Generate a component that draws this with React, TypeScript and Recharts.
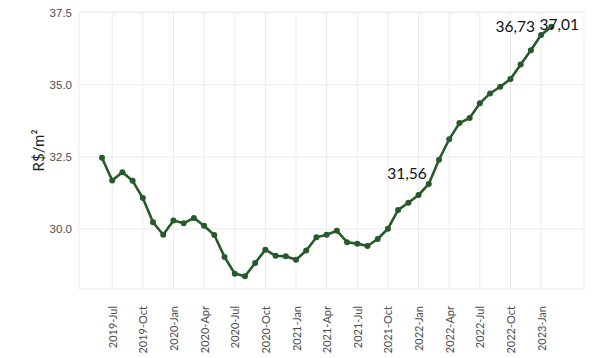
import { LineChart, Line, XAxis, YAxis, CartesianGrid, LabelList, Label } from 'recharts';

// monthly series, 2019-06 .. 2023-02
const START_YEAR = 2019;
const START_MONTH = 5; // June (0-based)

const prices = [
  32.47, 31.68, 31.97, 31.67, 31.07, 30.23, 29.8,
  30.29, 30.2, 30.38, 30.11, 29.79, 29.03, 28.45, 28.36, 28.82, 29.28, 29.07, 29.05,
  28.93, 29.25, 29.71, 29.8, 29.94, 29.54, 29.49, 29.41, 29.65, 30.01, 30.66, 30.91,
  31.18, 31.56, 32.4, 33.11, 33.67, 33.85, 34.36, 34.7, 34.93, 35.2, 35.7, 36.2,
  36.73, 37.01,
];

const monthNames = ['Jan', 'Feb', 'Mar', 'Apr', 'May', 'Jun', 'Jul', 'Aug', 'Sep', 'Oct', 'Nov', 'Dec'];

const labelledIdx = [32, 43, 44];
const xTicks = [1, 4, 7, 10, 13, 16, 19, 22, 25, 28, 31, 34, 37, 40, 43];
const yTicks = [30, 32.5, 35, 37.5];

const GREEN = '#27592a';

const data = prices.map((v, i) => ({
  i,
  v,
  tag: labelledIdx.includes(i) ? v.toFixed(2).replace('.', ',') : '',
}));

const monthLabel = (i: number) => {
  const m = START_MONTH + i;
  return `${START_YEAR + Math.floor(m / 12)}-${monthNames[m % 12]}`;
};

const XTick = ({ x, y, payload }: any) => (
  <text
    x={x}
    y={y + 9}
    transform={`rotate(-90 ${x} ${y + 9})`}
    textAnchor="end"
    dominantBaseline="central"
    fontSize={11}
    fontFamily="Lato, sans-serif"
    fill="#4d4d4d"
  >
    {monthLabel(payload.value)}
  </text>
);

// recharts hands us x already pulled in by tickSize + tickMargin
const YTick = ({ x, y, payload }: any) => (
  <text x={x + 1} y={y} textAnchor="end" dominantBaseline="central" fontSize={11.5} fontFamily="Liberation Sans, Arial, sans-serif" fill="#4d4d4d">
    {payload.value.toFixed(1)}
  </text>
);

// where each callout sits relative to its point
const tagPlacement: Record<string, { dx: number; dy: number; anchor: string }> = {
  '31,56': { dx: -2, dy: -5, anchor: 'end' },
  '36,73': { dx: -6, dy: -3, anchor: 'end' },
  '37,01': { dx: 8, dy: 3, anchor: 'middle' },
};

const Tag = ({ x, y, value }: any) => {
  if (!value) return null;
  const p = tagPlacement[value] || { dx: 0, dy: -10, anchor: 'middle' };
  return (
    <text x={x + p.dx} y={y + p.dy} textAnchor={p.anchor} fontSize={15.5} fontFamily="Lato, sans-serif" fill="#111">
      {value}
    </text>
  );
};

export default function App() {
  return (
    <div style={{ position: 'absolute', left: 0, top: 0, width: 600, height: 358, background: '#fff' }}>
      <LineChart width={600} height={358} data={data} margin={{ top: 12, right: 16, bottom: 9, left: 0 }}>
        <CartesianGrid stroke="#ebebeb" strokeWidth={1} />
        <XAxis
          dataKey="i"
          type="number"
          domain={[-2.25, 47.2]}
          ticks={xTicks}
          tick={<XTick />}
          tickLine={false}
          axisLine={false}
          height={60}
          interval={0}
        />
        <YAxis
          type="number"
          domain={[27.917, 37.524]}
          ticks={yTicks}
          tick={<YTick />}
          tickLine={false}
          axisLine={false}
          width={79}
          allowDataOverflow
        >
          <Label
            value="R$/m²"
            angle={-90}
            position="insideLeft"
            offset={39}
            style={{ textAnchor: 'middle', fontSize: 15, fontFamily: 'Lato, sans-serif', fill: '#222' }}
          />
        </YAxis>
        <Line
          type="linear"
          dataKey="v"
          stroke={GREEN}
          strokeWidth={2.6}
          dot={{ r: 3, fill: GREEN, stroke: GREEN, strokeWidth: 0 }}
          isAnimationActive={false}
        >
          <LabelList dataKey="tag" content={<Tag />} />
        </Line>
      </LineChart>
    </div>
  );
}
